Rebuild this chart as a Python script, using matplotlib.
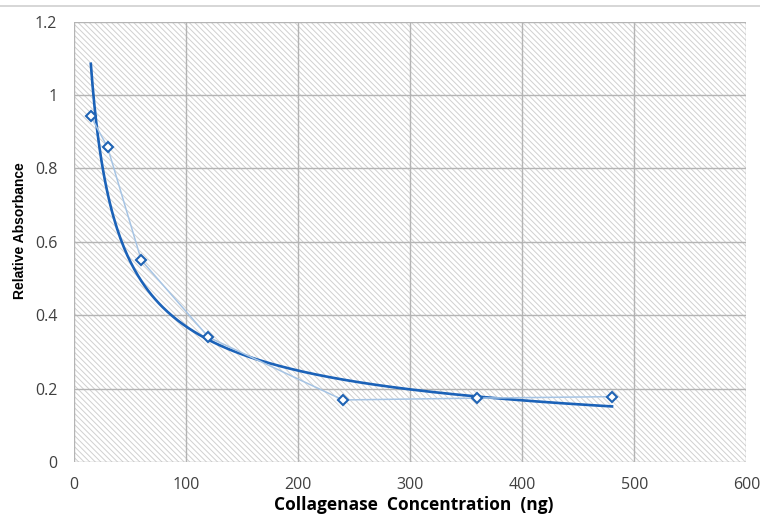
import numpy as np
import matplotlib
matplotlib.use("Agg")
import matplotlib.pyplot as plt
from matplotlib.patches import Rectangle
from matplotlib.lines import Line2D

# data
conc = [15, 30, 60, 120, 240, 360, 480]
absorb = [0.942, 0.857, 0.550, 0.340, 0.169, 0.174, 0.178]
x_ticks = [0, 100, 200, 300, 400, 500, 600]
y_ticks = [0, 0.2, 0.4, 0.6, 0.8, 1.0, 1.2]
y_labels = ['0', '0.2', '0.4', '0.6', '0.8', '1', '1.2']

plt.rcParams['font.family'] = ['Open Sans', 'DejaVu Sans']
plt.rcParams['hatch.linewidth'] = 0.7

fig = plt.figure(figsize=(7.6, 5.14), dpi=100)
ax = fig.add_axes([74 / 760, 52 / 514, 672.5 / 760, 440.5 / 514])

# hatched plot area background
ax.add_patch(Rectangle((0, 0), 1, 1, transform=ax.transAxes, facecolor='white',
                       edgecolor='#d0d0d0', lw=0, hatch='\\' * 6, zorder=0))

# power trendline (least squares in log space, like Excel)
b, ln_a = np.polyfit(np.log(conc), np.log(absorb), 1)
xs = np.linspace(min(conc), max(conc), 300)
ax.plot(xs, np.exp(ln_a) * xs ** b, color='#1b62b8', lw=1.9, zorder=3)

# measured points
ax.plot(conc, absorb, color='#a6c4e4', lw=1.1, zorder=4)
ax.plot(conc, absorb, ls='none', marker='D', ms=5, mfc='white', mec='#1f63b4',
        mew=1.5, zorder=5)

ax.set_xlim(0, 600)
ax.set_ylim(0, 1.2)
ax.set_xticks(x_ticks)
ax.set_yticks(y_ticks)
ax.set_yticklabels(y_labels)
ax.grid(True, color='#b4b4b4', lw=1.0)
ax.set_axisbelow(False)
for s in ax.spines.values():
    s.set_visible(False)
ax.tick_params(length=0, labelsize=11.5, colors='#404040')
ax.tick_params(axis='x', pad=11)
ax.tick_params(axis='y', pad=12)

ax.set_xlabel('Collagenase  Concentration  (ng)', fontsize=12.5, fontweight='bold',
              color='black', va='center')
ax.xaxis.set_label_coords(414 / 760, 9 / 514, transform=fig.transFigure)
ax.set_ylabel('Relative Absorbance', fontsize=10, fontweight='bold',
              family=['Liberation Sans', 'DejaVu Sans'], color='black')
ax.yaxis.set_label_coords(20 / 760, 1 - 231 / 514, transform=fig.transFigure)
ax.yaxis.label.set_va('center')

fig.add_artist(Line2D([0, 1], [1 - 6 / 514, 1 - 6 / 514], color='#d0d0d0', lw=1.2))

fig.savefig('out.png', dpi=100)
